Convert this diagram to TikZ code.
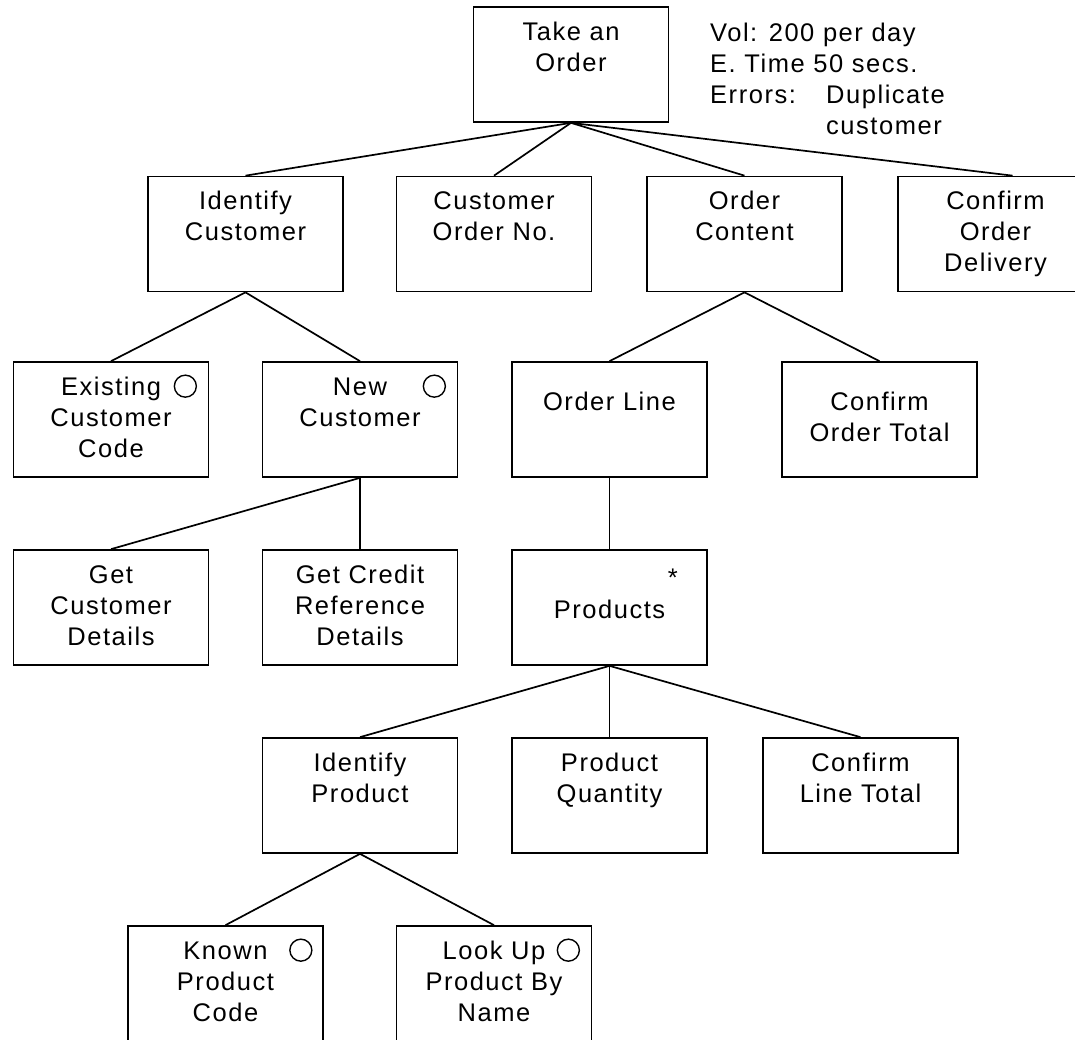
\documentclass[tikz,border=0pt]{standalone}
\usepackage{fontspec}
\setmainfont{Liberation Sans}[LetterSpace=6]
\usepackage{tikz}
\newcommand{\boxfont}{\fontsize{25.5}{31}\selectfont}
\newcommand{\boxstrut}{\rule[-4.5pt]{0pt}{31pt}}
\tikzset{
  taskbox/.style={draw,line width=1.7pt,minimum width=195pt,minimum height=115pt,
    inner sep=0pt,align=center,font=\boxfont,
    execute at begin node=\boxstrut,execute at end node=\boxstrut},
  selmark/.style={draw,circle,line width=1.4pt,minimum size=22pt,inner sep=0pt},
  treeline/.style={line width=1.7pt},
  notetext/.style={font=\boxfont,align=left,inner sep=0pt,anchor=north west,
    execute at begin node=\strut}
}

\begin{document}
\begin{tikzpicture}[x=1pt,y=-1pt]
  \useasboundingbox (0,0) rectangle (1075,1039);
  \clip (0,0) rectangle (1075,1039);
  % top
  \node[taskbox] (take) at (571,64.5) {Take an\\Order\\};
  \node[notetext] (note) at (710,23.3)
    {Vol: 200 per day\\E. Time 50 secs.\\\makebox[116pt][l]{Errors:}Duplicate\\\hspace*{116pt}customer};
  % level 2
  \node[taskbox] (identcust) at (245.5,234) {Identify\\Customer\\};
  \node[taskbox] (custno) at (494,234) {Customer\\Order No.\\};
  \node[taskbox] (ordcont) at (744.5,234) {Order\\Content\\};
  \node[taskbox] (cdeliv) at (995.5,234) {Confirm\\Order\\Delivery};
  % level 3
  \node[taskbox] (excust) at (111,419.5) {Existing\\Customer\\Code};
  \node[taskbox] (newcust) at (360,419.5) {New\\Customer\\};
  \node[taskbox] (ordline) at (609.5,419.5) {Order Line\\};
  \node[taskbox] (ctotal) at (879.5,419.5) {Confirm\\Order Total};
  \node[selmark] (exsel) at ([xshift=-24pt,yshift=-25pt]excust.north east) {};
  \node[selmark] (newsel) at ([xshift=-24pt,yshift=-25pt]newcust.north east) {};
  % level 4
  \node[taskbox] (getdet) at (111,607.5) {Get\\Customer\\Details};
  \node[taskbox] (getcred) at (360,607.5) {Get Credit\\Reference\\Details};
  \node[taskbox] (prods) at (609.5,607.5) {Products};
  \node[font=\boxfont,inner sep=0pt,anchor=base] (prodsit) at ([xshift=-35pt,yshift=-37pt]prods.north east) {*};
  % level 5
  \node[taskbox] (identprod) at (360,795.5) {Identify\\Product\\};
  \node[taskbox] (prodqty) at (609.5,795.5) {Product\\Quantity\\};
  \node[taskbox] (cline) at (860.5,795.5) {Confirm\\Line Total\\};
  % level 6
  \node[taskbox] (known) at (225.5,983.5) {Known\\Product\\Code};
  \node[taskbox] (lookup) at (494,983.5) {Look Up\\Product By\\Name};
  \node[selmark] (knownsel) at ([xshift=-23pt,yshift=-25pt]known.north east) {};
  \node[selmark] (lookupsel) at ([xshift=-24pt,yshift=-25pt]lookup.north east) {};
  % connectors
  \foreach \c in {identcust,custno,ordcont}
    \draw[treeline] (take.south) -- (\c.north);
  \draw[treeline] (take.south) -- ([xshift=17pt]cdeliv.north);
  \foreach \c in {excust,newcust}
    \draw[treeline] (identcust.south) -- (\c.north);
  \foreach \c in {getdet,getcred}
    \draw[treeline] (newcust.south) -- (\c.north);
  \foreach \c in {ordline,ctotal}
    \draw[treeline] (ordcont.south) -- (\c.north);
  \draw[treeline] (ordline.south) -- (prods.north);
  \foreach \c in {identprod,prodqty,cline}
    \draw[treeline] (prods.south) -- (\c.north);
  \foreach \c in {known,lookup}
    \draw[treeline] (identprod.south) -- (\c.north);
\end{tikzpicture}
\end{document}
